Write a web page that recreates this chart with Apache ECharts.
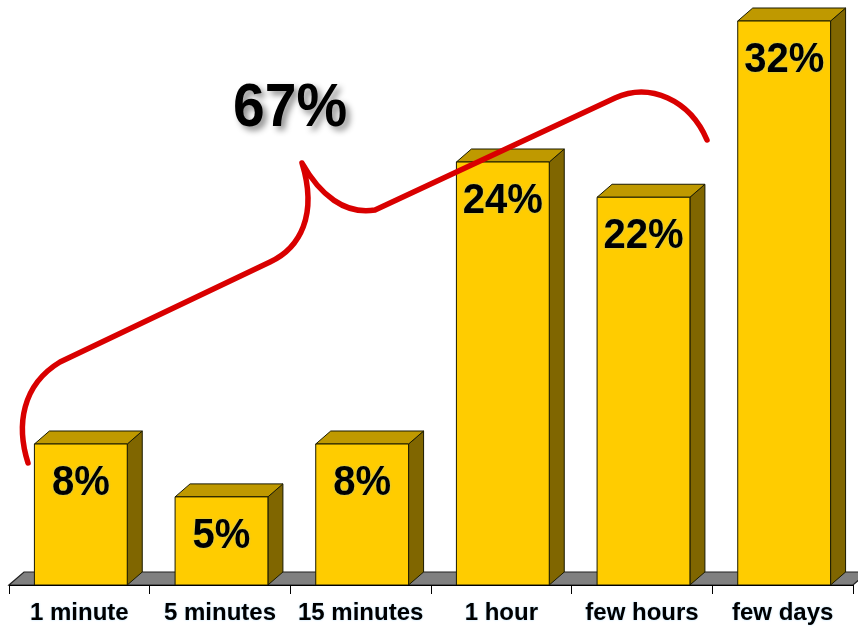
<!DOCTYPE html>
<html>
<head>
<meta charset="utf-8">
<script src="https://cdn.jsdelivr.net/npm/echarts@6/dist/echarts.min.js"></script>
<style>html,body{margin:0;padding:0;background:#fff}#c{width:858px;height:628px}</style>
</head>
<body>
<div id="c"></div>
<script>
const categories = ['1 minute', '5 minutes', '15 minutes', '1 hour', 'few hours', 'few days'];
const values = [8, 5, 8, 24, 22, 32];
const valueLabels = ['8%', '5%', '8%', '24%', '22%', '32%'];
const braceLabel = '67%';

const DX = 15, DY = -13;
const FONT = '"Liberation Sans", Arial, sans-serif';
const BRACE_PATH = 'M 28 463 C 16 425 22 385 60 362 L 270 262 C 300 248 318 215 302 163 C 320 195 345 215 375 210 L 615 98 C 650 82 690 100 707 140';

const chart = echarts.init(document.getElementById('c'));

function renderFloor(params, api) {
  const cs = params.coordSys;
  const x0 = cs.x, x1 = cs.x + cs.width, y = cs.y + cs.height;
  return {
    type: 'polygon',
    shape: { points: [[x0, y], [x1, y], [x1 + DX, y + DY], [x0 + DX, y + DY]] },
    style: { fill: '#808080', stroke: '#222', lineWidth: 1.2 }
  };
}

function renderBar(params, api) {
  const idx = api.value(0);
  const val = api.value(1);
  const top = api.coord([idx, val]);
  const base = api.coord([idx, 0]);
  const w = api.size([1, 0])[0] * 0.66;
  const cx = top[0] + 1.5;
  const xl = cx - w / 2, xr = cx + w / 2;
  const yt = top[1], yb = base[1];
  const stroke = '#1a1a00';
  return {
    type: 'group',
    children: [
      { type: 'polygon', shape: { points: [[xr, yt], [xr + DX, yt + DY], [xr + DX, yb + DY], [xr, yb]] },
        style: { fill: '#806600', stroke: stroke, lineWidth: 1 } },
      { type: 'polygon', shape: { points: [[xl, yt], [xl + DX, yt + DY], [xr + DX, yt + DY], [xr, yt]] },
        style: { fill: '#BF9900', stroke: stroke, lineWidth: 1 } },
      { type: 'rect', shape: { x: xl, y: yt, width: w, height: yb - yt },
        style: { fill: '#FFCC00', stroke: stroke, lineWidth: 1 } },
      { type: 'text', x: cx, y: yt + 39, scaleY: 1.08,
        style: { text: valueLabels[params.dataIndex], fill: '#000', font: 'bold 40px ' + FONT,
                 align: 'center', verticalAlign: 'middle',
                 textShadowColor: 'rgba(120,200,255,0.7)', textShadowBlur: 2 } }
    ]
  };
}

function renderBrace(params, api) {
  return {
    type: 'path',
    shape: { pathData: BRACE_PATH },
    style: { fill: 'none', stroke: '#D90000', lineWidth: 5.5, lineCap: 'round', lineJoin: 'round' }
  };
}

chart.setOption({
  animation: false,
  grid: { left: 9, right: 5, top: 21, bottom: 43 },
  xAxis: {
    type: 'category',
    data: categories,
    axisLine: { show: true, lineStyle: { color: '#000', width: 1 } },
    axisTick: { show: true, length: 9, lineStyle: { color: '#000' } },
    axisLabel: { interval: 0, color: '#000', fontFamily: FONT, fontWeight: 'bold', fontSize: 24, margin: 16,
                 textShadowColor: 'rgba(120,200,255,0.6)', textShadowBlur: 2 },
    z: 10
  },
  yAxis: { type: 'value', min: 0, max: 32, show: false, splitLine: { show: false } },
  series: [
    { type: 'custom', renderItem: renderFloor, data: [[0]], z: 1, silent: true, clip: false },
    { type: 'custom', renderItem: renderBar, data: values.map((v, i) => [i, v]), z: 2, clip: false,
      encode: { x: 0, y: 1 } },
    { type: 'custom', renderItem: renderBrace, data: [[0]], z: 5, silent: true, clip: false }
  ],
  graphic: [
    { type: 'text', left: 233, top: 78, z: 100, scaleY: 1.08,
      style: { text: braceLabel, fill: '#000', font: 'bold 57px ' + FONT,
               textShadowColor: 'rgba(0,0,0,0.45)', textShadowBlur: 6, textShadowOffsetX: 4, textShadowOffsetY: 4 } }
  ]
});
</script>
</body>
</html>
